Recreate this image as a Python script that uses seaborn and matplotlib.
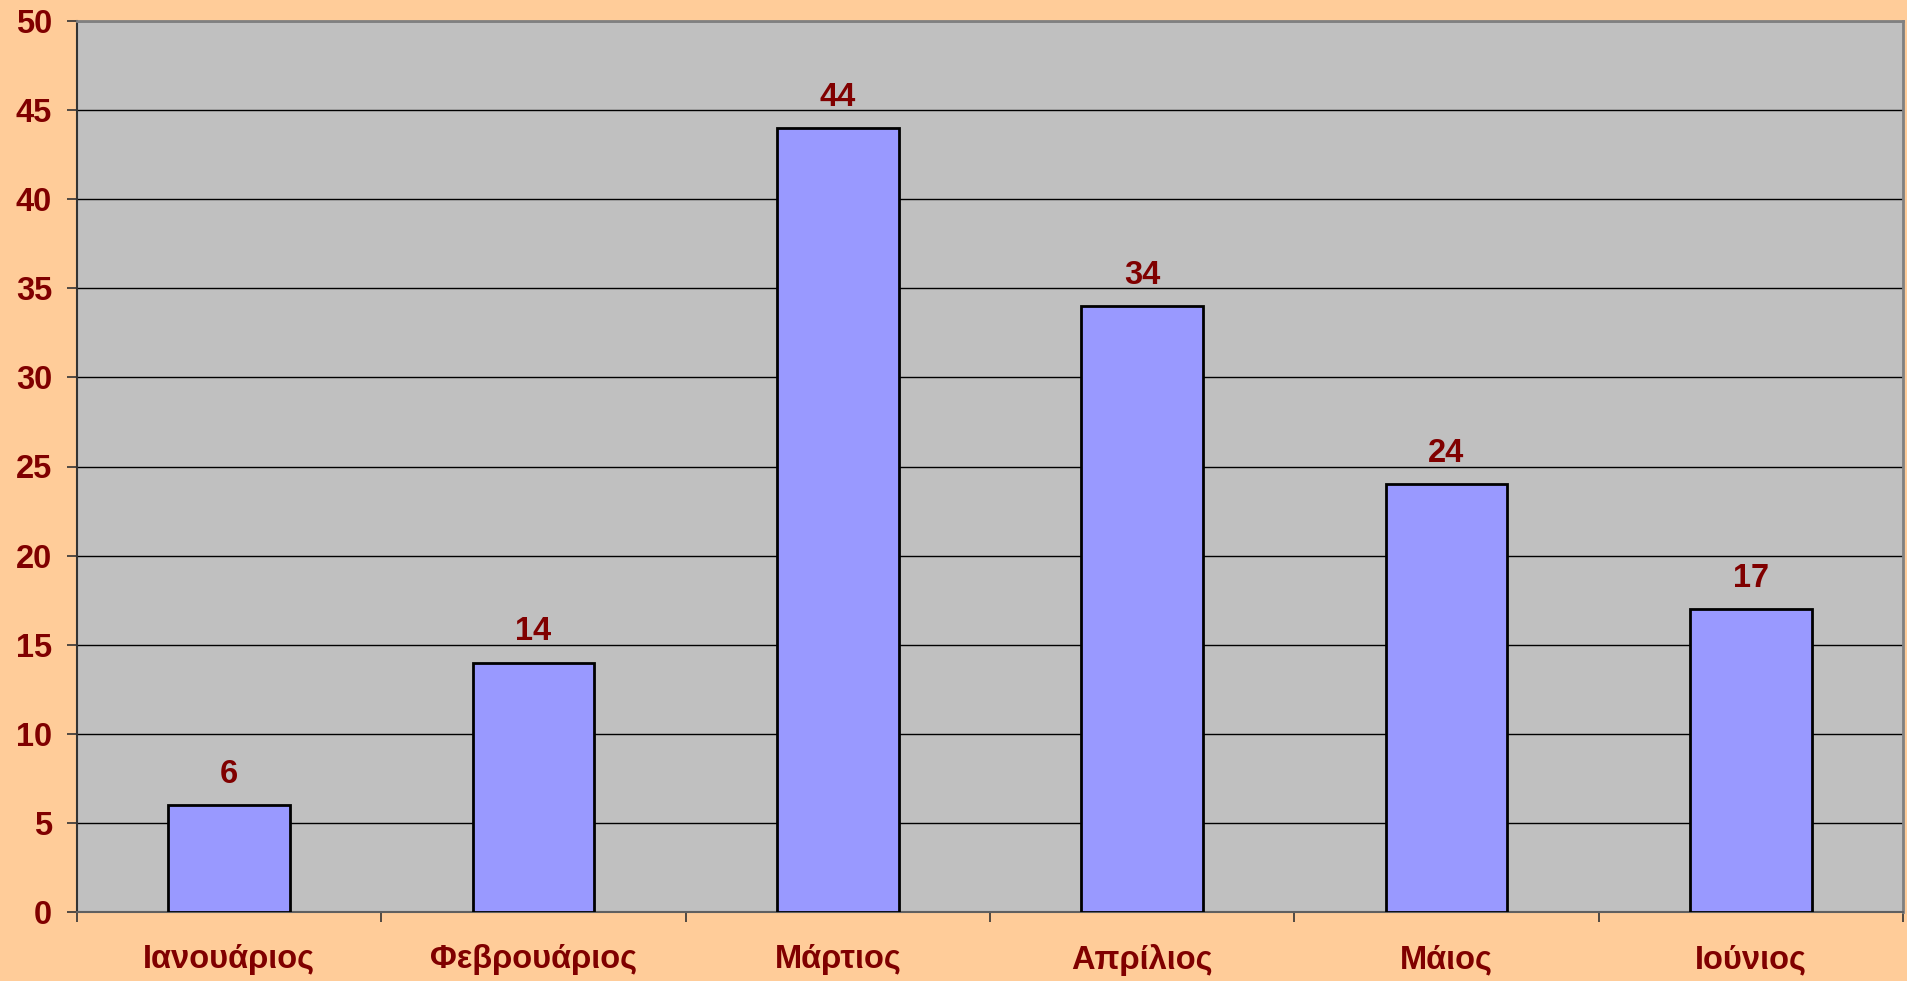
import matplotlib
matplotlib.use("Agg")
import matplotlib.pyplot as plt
import seaborn as sns
import pandas as pd

months = ["Ιανουάριος", "Φεβρουάριος", "Μάρτιος", "Απρίλιος", "Μάιος", "Ιούνιος"]
values = [6, 14, 44, 34, 24, 17]
y_ticks = [0, 5, 10, 15, 20, 25, 30, 35, 40, 45, 50]

sns.set_theme(style="white")
plt.rcParams['font.family'] = ['Liberation Sans', 'DejaVu Sans']

df = pd.DataFrame({"month": months, "value": values})

fig = plt.figure(figsize=(19.08, 9.81), dpi=100, facecolor="#FFCC99")
ax = fig.add_axes([77/1908, 1 - 912/981, (1903-77)/1908, (912-21)/981])
ax.set_facecolor("#C0C0C0")

sns.barplot(data=df, x="month", y="value", ax=ax, color="#9999FF", saturation=1,
            width=0.4, edgecolor="black", linewidth=2, zorder=3)

ax.set_ylim(0, 50)
ax.set_xlim(-0.5, len(months) - 0.5)
ax.set_yticks(y_ticks)
ax.yaxis.grid(True, color="black", linewidth=1.0, zorder=0)
ax.set_axisbelow(True)
ax.set_xlabel("")
ax.set_ylabel("")

FS = 23.5
for c in ax.containers:
    ax.bar_label(c, labels=[str(v) for v in values], padding=11,
                 color="#800000", fontsize=FS, fontweight="bold")

ax.tick_params(axis="y", which="major", direction="out", length=7, width=1.2,
               color="#333333", pad=11, labelsize=FS, labelcolor="#800000", left=True)
for lbl in ax.get_yticklabels():
    lbl.set_fontweight("bold")

# x ticks at category boundaries
ax.set_xticks(range(len(months)))
ax.set_xticklabels(months, fontsize=FS, fontweight="bold", color="#800000")
ax.tick_params(axis="x", which="major", length=0, pad=23)
ax.set_xticks([i - 0.5 for i in range(len(months) + 1)], minor=True)
ax.tick_params(axis="x", which="minor", direction="out", length=7, width=1.2,
               color="#333333", bottom=True)

for side in ["top", "right"]:
    ax.spines[side].set_color("#808080")
    ax.spines[side].set_linewidth(2)
ax.spines["left"].set_color("#333333")
ax.spines["left"].set_linewidth(1.5)
ax.spines["bottom"].set_color("#606060")
ax.spines["bottom"].set_linewidth(1.5)

fig.savefig("out.png", dpi=100, facecolor=fig.get_facecolor())
